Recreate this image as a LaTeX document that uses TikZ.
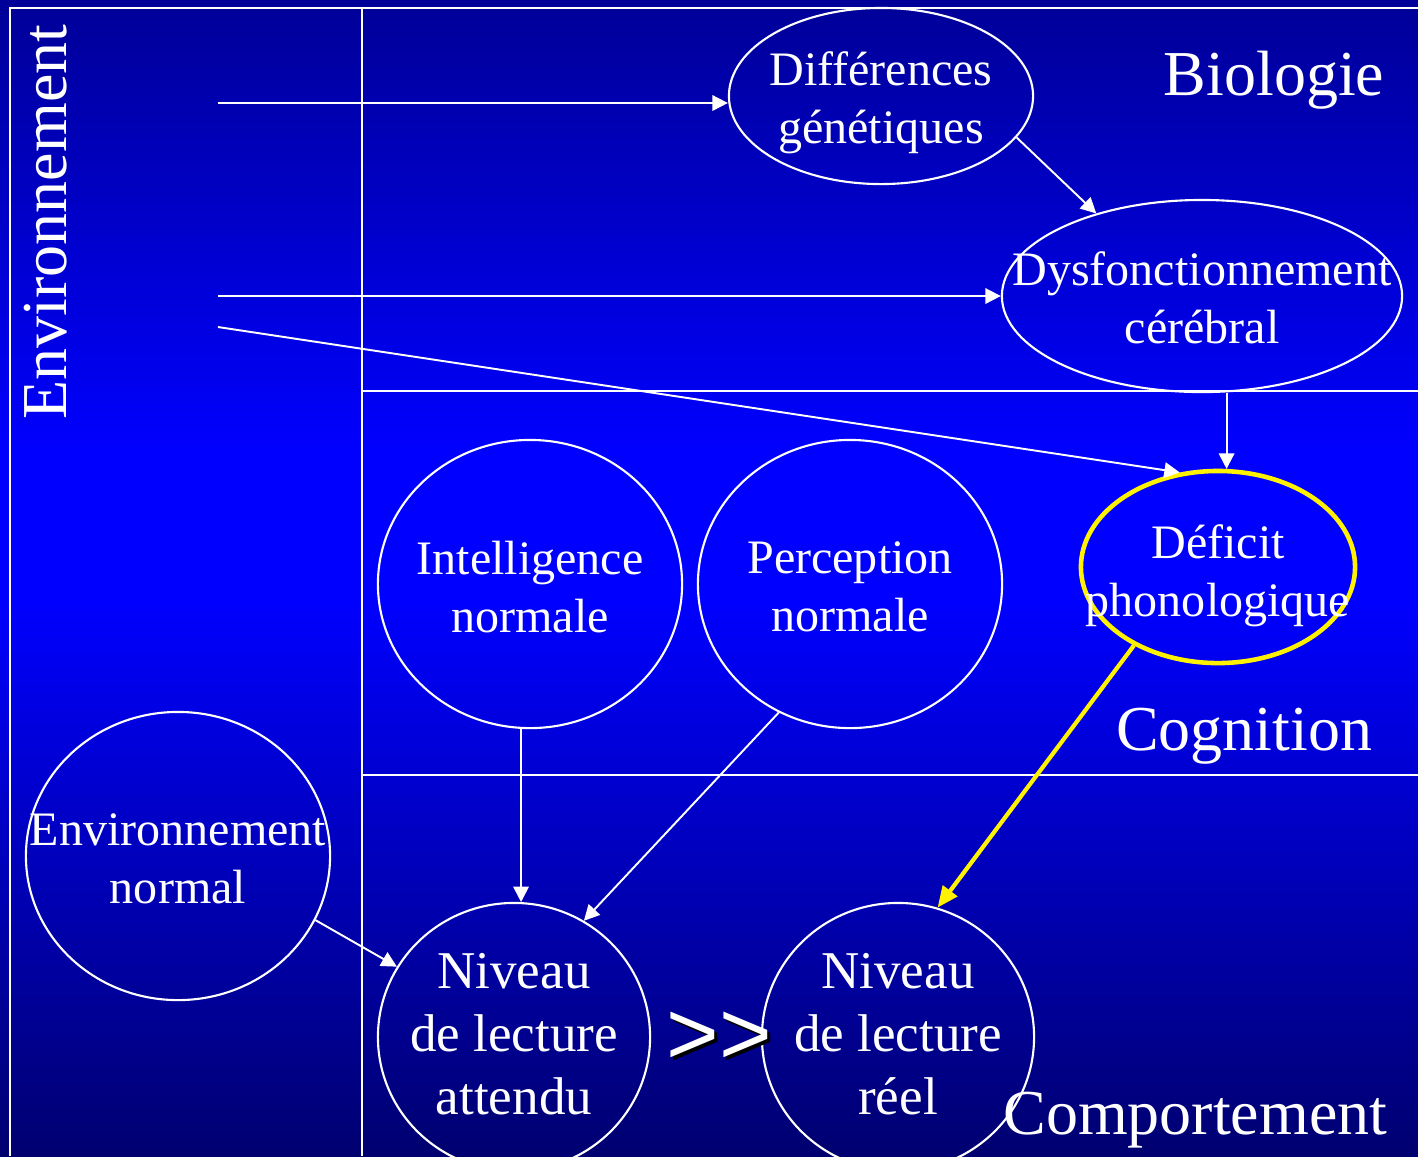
\documentclass[tikz,border=0pt]{standalone}
\usepackage{fontspec}
\setmainfont{Liberation Serif}
\newfontfamily\arrowsfont{Liberation Sans}
\usepackage{tikz}
\usetikzlibrary{arrows.meta}
\usetikzlibrary{shapes.geometric}

\definecolor{bgtop}{RGB}{0,0,152}
\definecolor{bgmid}{RGB}{0,0,255}
\definecolor{bgbot}{RGB}{0,0,112}

\newcommand\bubblefont{\fontsize{13.66}{16.5}\selectfont}
\newcommand\levelfont{\fontsize{15.1}{17.9}\selectfont}
\newcommand\areafont{\fontsize{18.2}{22}\selectfont}

\begin{document}
\begin{tikzpicture}[x=0.01cm, y=-0.01cm,
    frame/.style={draw=white, line width=0.6pt},
    bubble/.style={ellipse, draw=white, line width=0.6pt, inner sep=0pt},
    bubbletext/.style={text=white, align=center, font=\bubblefont, inner sep=0pt},
    leveltext/.style={text=white, align=center, font=\levelfont, inner sep=0pt},
    area/.style={text=white, font=\areafont, inner sep=0pt},
    link/.style={draw=white, line width=0.55pt, -{Triangle[length=4.4pt,width=4.4pt]}},
    hilite/.style={draw=yellow, line width=1.2pt, -{Triangle[length=6pt,width=5pt]}}]
    \useasboundingbox (0,0) rectangle (1418,1156);
    % backdrop
    \foreach \row in {0,4,...,448} {
        \pgfmathtruncatemacro\mix{\row/4.5}
        \fill[bgmid!\mix!bgtop] (0,\row) rectangle (1418,\row+5);
    }
    \fill[bgmid] (0,450) rectangle (1418,601);
    \foreach \row in {600,604,...,1152} {
        \pgfmathtruncatemacro\mix{(1156-\row)/5.56}
        \fill[bgmid!\mix!bgbot] (0,\row) rectangle (1418,\row+5);
    }

    % zones
    \draw[frame] (1418,8) -- (10,8) -- (10,1156);
    \draw[frame] (362,8) -- (362,1156);
    \draw[frame] (362,391) -- (1418,391);
    \draw[frame] (362,775) -- (1418,775);

    \node[area, rotate=90, anchor=base] (envlabel) at (66,222) {Environnement};
    \node[area, anchor=base east] (biolabel) at (1385,95) {Biologie};
    \node[area, anchor=base east] (coglabel) at (1373,750) {Cognition};
    \node[area, anchor=base east] (comlabel) at (1388,1134) {Comportement};

    % bubbles
    \node[bubble, minimum width=3.04cm, minimum height=1.76cm,
        label={[bubbletext, yshift=-1.8pt]center:Différences\\génétiques}] (diff) at (881,96) {};
    \node[bubble, minimum width=4.00cm, minimum height=1.92cm,
        label={[bubbletext, yshift=-0.6pt]center:Dysfonctionnement\\cérébral}] (dysf) at (1202,296) {};
    \node[bubble, draw=yellow, line width=1.3pt, minimum width=2.74cm, minimum height=1.92cm,
        label={[bubbletext, yshift=-2.4pt]center:Déficit\\phonologique}] (def) at (1218,567) {};
    \node[bubble, minimum width=3.04cm, minimum height=2.88cm,
        label={[bubbletext, yshift=-0.9pt]center:Intelligence\\normale}] (intel) at (530,584) {};
    \node[bubble, minimum width=3.04cm, minimum height=2.88cm,
        label={[bubbletext, yshift=-0.9pt]center:Perception\\normale}] (perc) at (850,584) {};
    \node[bubble, minimum width=3.04cm, minimum height=2.88cm,
        label={[bubbletext, yshift=-0.9pt]center:Environnement\\normal}] (envn) at (178,856) {};
    \node[bubble, minimum width=2.72cm, minimum height=2.68cm,
        label={[leveltext, yshift=0.9pt]center:Niveau\\de lecture\\attendu}] (niv1) at (514,1037) {};
    \node[bubble, minimum width=2.72cm, minimum height=2.68cm,
        label={[leveltext, yshift=0.9pt]center:Niveau\\de lecture\\réel}] (niv2) at (898,1037) {};

    \node[text=black, font=\arrowsfont\fontsize{25.6}{26}\selectfont, inner sep=0pt] (ggshadow) at (722,1041) {>>};
    \node[text=white, font=\arrowsfont\fontsize{25.6}{26}\selectfont, inner sep=0pt] (gg) at (719,1038) {>>};

    % links
    \coordinate (env1) at (218,103);
    \coordinate (env2) at (218,296);
    \coordinate (env3) at (218,327);
    \draw[link] (env1) -- (env1 -| diff.west);
    \draw[link] (env2) -- (dysf.west);
    \draw[link] (env3) -- (def.112);
    \draw[link] (diff.-17) -- (dysf.142);
    \draw[link] (def.85 |- dysf.south) -- (def.85);
    \draw[link] (niv1.87 |- intel.south) -- (niv1.87);
    \draw[link] (perc.241) -- (niv1.59);
    \draw[link] (envn.-25) -- (niv1.149);
    \draw[hilite] (def.223) -- (niv2.73);
\end{tikzpicture}
\end{document}
